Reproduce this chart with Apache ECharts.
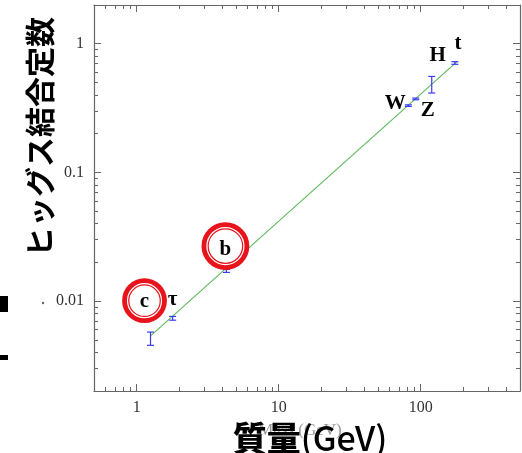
<!DOCTYPE html>
<html>
<head>
<meta charset="utf-8">
<script src="https://cdn.jsdelivr.net/npm/echarts@6/dist/echarts.min.js"></script>
<style>
html,body{margin:0;padding:0;background:#fff;}
#chart{width:522px;height:453px;}
</style>
</head>
<body>
<div id="chart"></div>
<script>
// ---- data ----
const particles = ['c', 'τ', 'b', 'W', 'Z', 'H', 't'];
const massGeV   = [1.25, 1.79, 4.28, 81.8, 92.2, 119.5, 174];
const coupling  = [0.0051, 0.0073, 0.0171, 0.330, 0.372, 0.48, 0.708];
const errLow    = [0.00453, 0.0071, 0.0167, 0.326, 0.367, 0.414, 0.692];
const errHigh   = [0.00574, 0.0076, 0.0176, 0.335, 0.378, 0.557, 0.725];
const fitMass   = [1.24, 180];
const fitCoupl  = [0.00532, 0.725];
const circled   = ['c', 'b'];

const xMajorTicks = [1, 10, 100];
const xMinorTicks = [0.6, 0.7, 0.8, 0.9, 2, 3, 4, 5, 6, 7, 8, 9, 20, 30, 40, 50, 60, 70, 80, 90, 200, 300, 400];
const yMajorTicks = [0.01, 0.1, 1];
const yMinorTicks = [0.003, 0.004, 0.005, 0.006, 0.007, 0.008, 0.009, 0.02, 0.03, 0.04, 0.05, 0.06, 0.07, 0.08, 0.09,
                     0.2, 0.3, 0.4, 0.5, 0.6, 0.7, 0.8, 0.9];
const xTitleMain = '質量';
const xTitleUnit = '(GeV)';
const xGhostTitle = 'Mass (GeV)';
const yTitle = 'ヒッグス結合定数';

// ---- styles ----
const AXIS_COLOR = '#666';
const SERIF = '"Liberation Serif", "DejaVu Serif", serif';
const labelOffsets = { 'c': [-6, -37], 'τ': [0, -19], 'b': [-1, -22], 'W': [-13, -2], 'Z': [12, 12], 'H': [6, -29], 't': [3, -19] };
const circleOffsets = { 'c': [-6, -38], 'b': [-1, -25] };
const circleSizes = { 'c': 40, 'b': 43 };

const chart = echarts.init(document.getElementById('chart'), null, { renderer: 'canvas' });

function xAxisDef(pos, ticks, len, withLabel, withLine) {
  return {
    type: 'log', logBase: 10, position: pos, min: 0.5, max: 500, gridIndex: 0,
    axisLine: { show: withLine, onZero: false, lineStyle: { color: AXIS_COLOR, width: 1.2 } },
    axisTick: { show: true, inside: true, length: len, customValues: ticks, lineStyle: { color: AXIS_COLOR, width: 1 } },
    axisLabel: withLabel ? { show: true, customValues: ticks, margin: 9, color: '#333', fontFamily: SERIF, fontSize: 16,
                             formatter: v => String(+v) } : { show: false },
    splitLine: { show: false }, minorTick: { show: false }
  };
}
function yAxisDef(pos, ticks, len, withLabel, withLine) {
  return {
    type: 'log', logBase: 10, position: pos, min: 0.002, max: 2, gridIndex: 0,
    axisLine: { show: withLine, onZero: false, lineStyle: { color: AXIS_COLOR, width: 1.2 } },
    axisTick: { show: true, inside: true, length: len, customValues: ticks, lineStyle: { color: AXIS_COLOR, width: 1 } },
    axisLabel: withLabel ? { show: true, customValues: ticks, margin: 10, color: '#333', fontFamily: SERIF, fontSize: 16,
                             formatter: v => String(+v) } : { show: false },
    splitLine: { show: false }, minorTick: { show: false }
  };
}

const pointData = massGeV.map((m, i) => ({
  name: particles[i],
  value: [m, coupling[i]],
  label: { offset: labelOffsets[particles[i]] }
}));
const errData = massGeV.map((m, i) => [m, errLow[i], errHigh[i]]);
const circleData = particles.map((p, i) => ({ p, i })).filter(o => circled.includes(o.p)).map(o => ({
  name: o.p, value: [massGeV[o.i], coupling[o.i]],
  symbolOffset: circleOffsets[o.p], symbolSize: circleSizes[o.p]
}));
const circleInner = circleData.map(d => Object.assign({}, d, { symbolSize: d.symbolSize - 8.5 }));

const option = {
  backgroundColor: '#fff',
  animation: false,
  grid: { left: 94, right: 2, top: 5, bottom: 62, containLabel: false },
  xAxis: [
    xAxisDef('bottom', xMajorTicks, 7, true, true),
    xAxisDef('bottom', xMinorTicks, 4, false, false),
    xAxisDef('top', xMajorTicks, 7, false, true),
    xAxisDef('top', xMinorTicks, 4, false, false)
  ],
  yAxis: [
    yAxisDef('left', yMajorTicks, 7, true, true),
    yAxisDef('left', yMinorTicks, 4, false, false),
    yAxisDef('right', yMajorTicks, 7, false, true),
    yAxisDef('right', yMinorTicks, 4, false, false)
  ],
  series: [
    {
      type: 'line', xAxisIndex: 0, yAxisIndex: 0, z: 2,
      data: fitMass.map((m, i) => [m, fitCoupl[i]]),
      symbol: 'none', lineStyle: { color: '#5db95a', width: 1.1 }
    },
    {
      type: 'custom', xAxisIndex: 0, yAxisIndex: 0, z: 3,
      data: errData,
      encode: { x: 0, y: [1, 2] },
      renderItem: function (params, api) {
        const x = api.value(0);
        const lo = api.coord([x, api.value(1)]);
        const hi = api.coord([x, api.value(2)]);
        const hw = 3.5;
        const st = { stroke: '#3b3bf0', lineWidth: 1.2 };
        return {
          type: 'group',
          children: [
            { type: 'line', shape: { x1: lo[0], y1: lo[1], x2: hi[0], y2: hi[1] }, style: st },
            { type: 'line', shape: { x1: lo[0] - hw, y1: lo[1], x2: lo[0] + hw, y2: lo[1] }, style: st },
            { type: 'line', shape: { x1: hi[0] - hw, y1: hi[1], x2: hi[0] + hw, y2: hi[1] }, style: st }
          ]
        };
      }
    },
    {
      type: 'scatter', xAxisIndex: 0, yAxisIndex: 0, z: 4,
      data: circleData, symbol: 'circle',
      itemStyle: { color: '#fff', borderColor: '#e8131b', borderWidth: 4.8, opacity: 1 },
      silent: true
    },
    {
      type: 'scatter', xAxisIndex: 0, yAxisIndex: 0, z: 5,
      data: circleInner, symbol: 'circle',
      itemStyle: { color: '#fff', borderColor: '#e8131b', borderWidth: 1.2, opacity: 1 },
      silent: true
    },
    {
      type: 'scatter', xAxisIndex: 0, yAxisIndex: 0, z: 6,
      data: pointData, symbolSize: 2, itemStyle: { color: 'rgba(0,0,0,0)', opacity: 1 },
      label: {
        show: true, position: 'inside', formatter: '{b}', opacity: 1,
        color: '#000', fontFamily: SERIF, fontWeight: 'bold', fontSize: 21
      }
    }
  ],
  graphic: [
    { type: 'text', x: 300, y: 431, z: 1, style: { text: xGhostTitle, fill: '#9a9a9a', font: '17px "Liberation Serif"', textAlign: 'center', textVerticalAlign: 'middle' } },
    { type: 'text', x: 310, y: 438, z: 10, style: {
        text: '{m|' + xTitleMain + '}{u|' + xTitleUnit + '}', textAlign: 'center', textVerticalAlign: 'middle',
        rich: {
          m: { fill: '#000', fontFamily: '"Noto Sans CJK JP"', fontWeight: 900, fontSize: 34 },
          u: { fill: '#000', fontFamily: '"Noto Sans CJK JP"', fontWeight: 500, fontSize: 34 }
        } } },
    { type: 'text', x: 40, y: 137, rotation: Math.PI / 2, z: 10, style: { text: yTitle, fill: '#000', font: 'bold 30px "Noto Sans CJK JP"', textAlign: 'center', textVerticalAlign: 'middle' } },
    { type: 'rect', shape: { x: 0, y: 296, width: 8, height: 16 }, style: { fill: '#000' } },
    { type: 'rect', shape: { x: 0, y: 355, width: 8, height: 5 }, style: { fill: '#000' } },
    { type: 'circle', shape: { cx: 43, cy: 303, r: 1.2 }, style: { fill: '#666' } }
  ]
};
chart.setOption(option);
</script>
</body>
</html>
